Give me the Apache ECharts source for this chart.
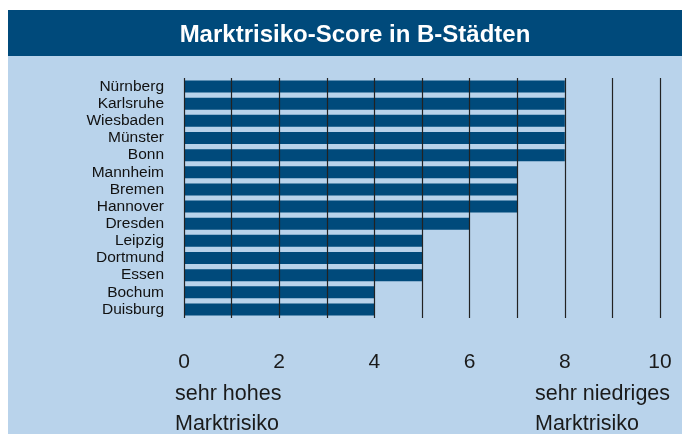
<!DOCTYPE html>
<html>
<head>
<meta charset="utf-8">
<script src="https://cdn.jsdelivr.net/npm/echarts@6/dist/echarts.min.js"></script>
<style>html,body{margin:0;padding:0;background:#fff;}#c{width:682px;height:434px;}</style>
</head>
<body>
<div id="c"></div>
<script>
const titleText = 'Marktrisiko-Score in B-Städten';
const cities = ['Nürnberg','Karlsruhe','Wiesbaden','Münster','Bonn','Mannheim','Bremen','Hannover','Dresden','Leipzig','Dortmund','Essen','Bochum','Duisburg'];
const scores = [8,8,8,8,8,7,7,7,6,5,5,5,4,4];
const leftNote = ['sehr hohes','Marktrisiko'];
const rightNote = ['sehr niedriges','Marktrisiko'];
const FONT = '"Liberation Sans", Arial, Helvetica, sans-serif';
const chart = echarts.init(document.getElementById('c'), null, {renderer:'canvas'});
chart.setOption({
  animation:false,
  textStyle:{fontFamily:FONT},
  graphic:[
    {type:'rect', z:-10, shape:{x:8,y:56,width:674,height:378}, style:{fill:'#b9d3eb'}},
    {type:'rect', z:-10, shape:{x:8,y:10,width:674,height:46}, style:{fill:'#004a7b'}},
    {type:'text', left:175, top:379, style:{text:leftNote.join('\n'), font:'21.5px '+FONT, fill:'#1a1a1a', lineHeight:30}},
    {type:'text', left:535, top:379, style:{text:rightNote.join('\n'), font:'21.5px '+FONT, fill:'#1a1a1a', lineHeight:30}}
  ],
  title:{text:titleText, left:350, textAlign:'center', top:18, textStyle:{color:'#fff', fontSize:24, fontWeight:'bold', fontFamily:FONT}},
  grid:{left:184, right:22, top:78, bottom:116, containLabel:false},
  xAxis:{type:'value', min:0, max:10, interval:1, z:10,
    axisLine:{show:false}, axisTick:{show:false},
    splitLine:{show:true, lineStyle:{color:'#222', width:1.2}},
    axisLabel:{interval:1, fontSize:21, color:'#1a1a1a', margin:34, fontFamily:FONT,
      formatter:function(v){return (v%2===0)?String(v):'';}}
  },
  yAxis:{type:'category', data:cities, inverse:true,
    axisLine:{show:false}, axisTick:{show:false},
    axisLabel:{interval:0, fontSize:15.5, lineHeight:16, color:'#111', margin:20, fontFamily:FONT}
  },
  series:[{type:'bar', data:scores, barWidth:12, itemStyle:{color:'#004a7b'}}]
});
</script>
</body>
</html>
